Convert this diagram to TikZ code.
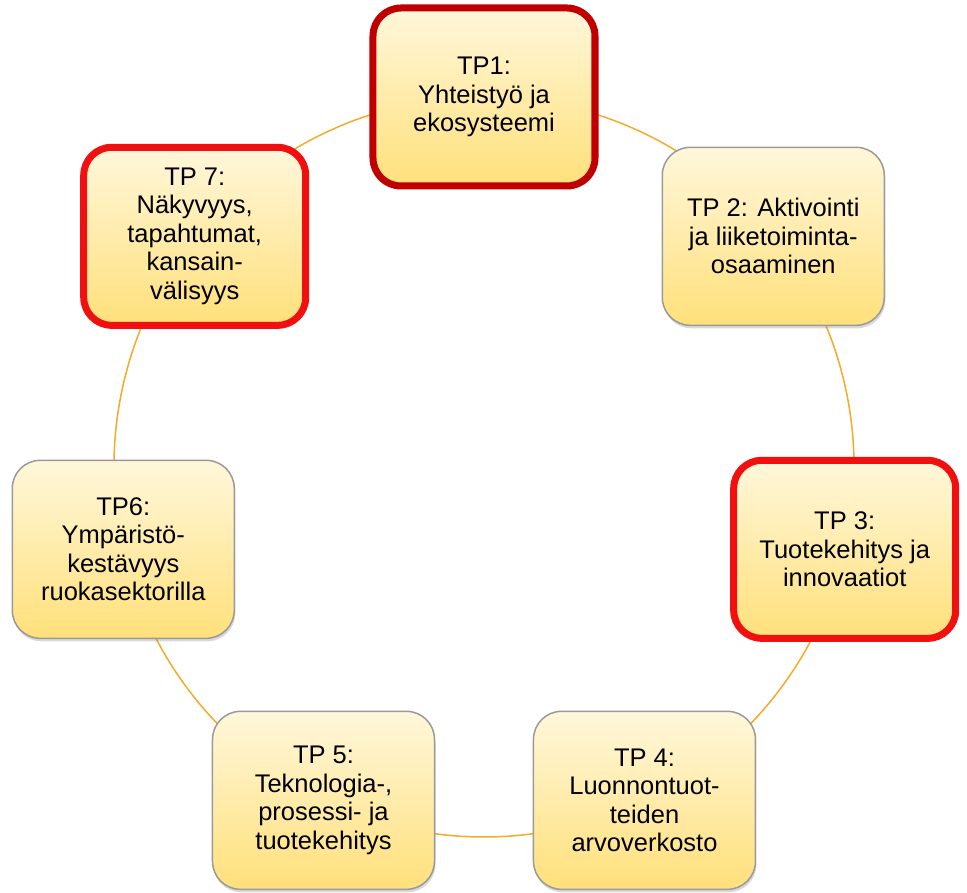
\documentclass[tikz,border=0pt]{standalone}
\usepackage{fontspec}
\setmainfont{Liberation Sans}
\usepackage{tikz}
\usetikzlibrary{shadows, backgrounds}

\definecolor{boxtop}{HTML}{FFF7DB}
\definecolor{boxbottom}{HTML}{FFE07A}
\definecolor{boxline}{HTML}{9A9A9A}
\definecolor{tpdarkred}{HTML}{C00000}
\definecolor{tpred}{HTML}{F20F0F}
\definecolor{linkorange}{HTML}{F7A928}

\begin{document}
\begin{tikzpicture}[x=1pt, y=1pt,
        tp/.style={rectangle, rounded corners=28pt, minimum width=222pt, minimum height=178pt,
            align=center, top color=boxtop, bottom color=boxbottom, draw=boxline, line width=1.5pt,
            font=\fontsize{25.5}{28.5}\selectfont,
            drop shadow={opacity=0.3, shadow xshift=1pt, shadow yshift=-3pt}},
        key/.style={draw=tpred, line width=7pt},
        link/.style={draw=linkorange, line width=1.5pt}]
                \useasboundingbox (-484,-426) rectangle (483,467);
                \node[tp, key, draw=tpdarkred] (tp1) at (90:370) {TP1:\\Yhteistyö ja\\ekosysteemi};
                \node[tp] (tp2) at (38.57:370) {TP 2: Aktivointi\\ja liiketoiminta-\\osaaminen};
                \node[tp, key] (tp3) at (-12.86:370) {TP 3:\\Tuotekehitys ja\\innovaatiot};
                \node[tp] (tp4) at (-64.29:370) {TP 4:\\Luonnontuot-\\teiden\\arvoverkosto};
                \node[tp] (tp5) at (-115.71:370) {TP 5:\\Teknologia-,\\prosessi- ja\\tuotekehitys};
                \node[tp] (tp6) at (-167.14:370) {TP6:\\Ympäristö-\\kestävyys\\ruokasektorilla};
                \node[tp, key] (tp7) at (141.43:370) {TP 7:\\Näkyvyys,\\tapahtumat,\\kansain-\\välisyys};
                \begin{scope}[on background layer]
                \path[link, bend left=25.7, looseness=0.9]
                (tp1.center) edge (tp2.center)
                (tp2.center) edge (tp3.center)
                (tp3.center) edge (tp4.center)
                (tp4.center) edge (tp5.center)
                (tp5.center) edge (tp6.center)
                (tp6.center) edge (tp7.center)
                (tp7.center) edge (tp1.center);
                \end{scope}
            \end{tikzpicture}
\end{document}
